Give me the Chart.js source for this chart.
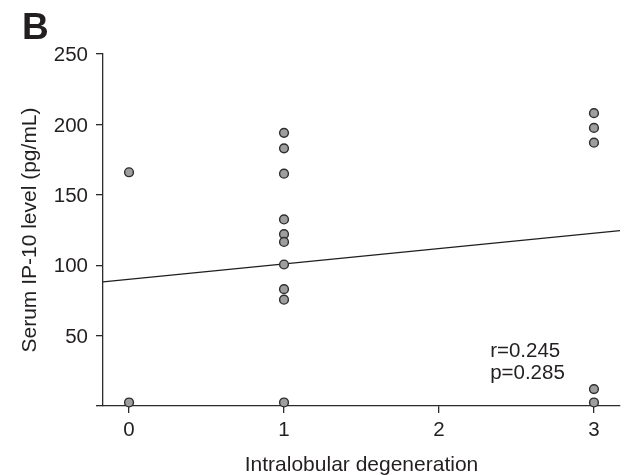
<!DOCTYPE html>
<html>
<head>
<meta charset="utf-8">
<title>Serum IP-10 vs intralobular degeneration</title>
<script src="https://cdn.jsdelivr.net/npm/chart.js@4.4.0/dist/chart.umd.min.js"></script>
<style>
  html, body { margin: 0; padding: 0; background: #fff; }
  #wrap { width: 626px; height: 475px; }
</style>
</head>
<body>
<div id="wrap"><canvas id="ip10Chart" width="626" height="475"></canvas></div>
<script>
// --- data ---
const degenerationGrade = [0, 0, 1, 1, 1, 1, 1, 1, 1, 1, 1, 1, 3, 3, 3, 3, 3];
const serumIP10 = [166, 2.5, 194, 183, 165, 132.5, 122, 116.5, 100.5, 83, 75.5, 2.5, 208, 197.5, 187, 12, 2.5];

// fitted line, ends read at the y axis and at the right end of the x axis
const fitX = [-0.168, 3.168];
const fitY = [88.2, 124.5];

const xTickValues = [0, 1, 2, 3];
const yTickValues = [0, 50, 100, 150, 200, 250];
const statLines = ['r=0.245', 'p=0.285'];

const FONT = '"Liberation Sans", Arial, Helvetica, sans-serif';
const INK = '#231f20';

// panel letter + r/p text
const annotations = {
  id: 'annotations',
  afterDraw(chart) {
    const ctx = chart.ctx;
    const xs = chart.scales.x, ys = chart.scales.y;
    ctx.save();
    ctx.fillStyle = INK;
    ctx.textAlign = 'left';
    ctx.textBaseline = 'alphabetic';
    ctx.font = 'bold 37px ' + FONT;
    ctx.fillText('B', 22, 39);

    ctx.font = '20.5px ' + FONT;
    ctx.textBaseline = 'middle';
    const left = xs.getPixelForValue(2.33);
    ctx.fillText(statLines[0], left, ys.getPixelForValue(38.5));
    ctx.fillText(statLines[1], left, ys.getPixelForValue(23));
    ctx.restore();
  }
};

const axisLine = { display: true, color: '#2b2b2b', width: 1.3 };
const tickMarks = { drawOnChartArea: false, drawTicks: true, tickLength: 7, color: '#2b2b2b', lineWidth: 1.3 };

new Chart(document.getElementById('ip10Chart'), {
  data: {
    datasets: [
      {
        type: 'scatter',
        data: degenerationGrade.map((g, i) => ({ x: g, y: serumIP10[i] })),
        pointRadius: 4.4,
        pointBackgroundColor: '#9e9e9e',
        pointBorderColor: '#2e2e2e',
        pointBorderWidth: 1.4,
        clip: false
      },
      {
        type: 'line',
        data: fitX.map((x, i) => ({ x: x, y: fitY[i] })),
        borderColor: '#1e1e1e',
        borderWidth: 1.3,
        pointRadius: 0,
        fill: false
      }
    ]
  },
  options: {
    responsive: false,
    devicePixelRatio: 1,
    animation: false,
    layout: { padding: { top: 54, right: 6, left: 0, bottom: 0 } },
    plugins: {
      legend: { display: false },
      tooltip: { enabled: false }
    },
    scales: {
      x: {
        type: 'linear',
        position: 'bottom',
        min: -0.168,
        max: 3.168,
        z: 1,
        afterBuildTicks: (axis) => { axis.ticks = xTickValues.map(v => ({ value: v })); },
        afterFit: (axis) => { axis.height = 69; },
        border: axisLine,
        grid: tickMarks,
        ticks: {
          color: INK,
          padding: 5,
          maxRotation: 0,
          font: { family: FONT, size: 20.5 }
        },
        title: {
          display: true,
          text: 'Intralobular degeneration',
          color: INK,
          font: { family: FONT, size: 21, lineHeight: '18px' },
          padding: { top: 0, bottom: 1 }
        }
      },
      y: {
        type: 'linear',
        min: 0,
        max: 250,
        afterBuildTicks: (axis) => { axis.ticks = yTickValues.map(v => ({ value: v })); },
        afterFit: (axis) => { axis.width = 103; },
        border: axisLine,
        grid: tickMarks,
        ticks: {
          color: INK,
          padding: 8,
          labelOffset: 1.5,
          font: { family: FONT, size: 20.5 },
          callback: (v) => (v === 0 ? '' : v)
        },
        title: {
          display: true,
          text: 'Serum IP-10 level (pg/mL)',
          color: INK,
          font: { family: FONT, size: 21, lineHeight: '18px' },
          padding: { top: 21, bottom: 0 }
        }
      }
    }
  },
  plugins: [annotations]
});
</script>
</body>
</html>
